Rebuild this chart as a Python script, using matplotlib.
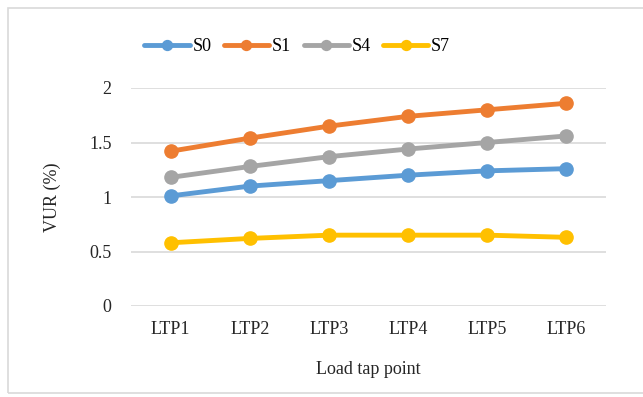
import matplotlib.pyplot as plt
from matplotlib.patches import Rectangle

points = ["LTP1", "LTP2", "LTP3", "LTP4", "LTP5", "LTP6"]
s0 = [1.01, 1.10, 1.15, 1.20, 1.24, 1.26]
s1 = [1.42, 1.54, 1.65, 1.74, 1.80, 1.86]
s4 = [1.18, 1.28, 1.37, 1.44, 1.50, 1.56]
s7 = [0.58, 0.62, 0.65, 0.65, 0.65, 0.63]

series = [("S0", s0, "#5B9BD5"), ("S1", s1, "#ED7D31"),
          ("S4", s4, "#A5A5A5"), ("S7", s7, "#FFC000")]

plt.rcParams['font.family'] = ['Liberation Serif', 'DejaVu Serif']

fig = plt.figure(figsize=(6.43, 3.97), dpi=100)
fig.patches.append(Rectangle((8 / 643, 0.01), 1.0, 0.97, transform=fig.transFigure,
                             fill=False, edgecolor="#d9d9d9", linewidth=1.2))
ax = fig.add_axes([131 / 643, 1 - 306 / 397, 475 / 643, 218 / 397])

x = range(len(points))
for name, vals, col in series:
    ax.plot(x, vals, color=col, linewidth=3.5, marker="o", markersize=9.5,
            label=name, solid_capstyle="round")

ax.set_xlim(-0.5, len(points) - 0.5)
ax.set_ylim(0, 2)
ax.set_yticks([0, 0.5, 1, 1.5, 2])
ax.set_yticklabels(["0", "0.5", "1", "1.5", "2"])
ax.set_xticks(list(x))
ax.set_xticklabels(points)
ax.tick_params(length=0, labelsize=13, colors="#262626")
ax.tick_params(axis="x", pad=11)
ax.tick_params(axis="y", pad=14)
ax.grid(axis="y", color="#d9d9d9", linewidth=1.2)
ax.set_axisbelow(True)
for sp in ax.spines.values():
    sp.set_visible(False)

ax.set_ylabel("VUR (%)", fontsize=13, color="#262626", labelpad=20)
ax.set_xlabel("Load tap point", fontsize=13, color="#262626", labelpad=16)

ax.legend(loc="center", bbox_to_anchor=(0.35, 1.19), ncol=4, frameon=False,
          fontsize=13, handlelength=2.5, handletextpad=0.15, columnspacing=0.7,
          markerscale=0.75)

fig.savefig("out.png", dpi=100)
